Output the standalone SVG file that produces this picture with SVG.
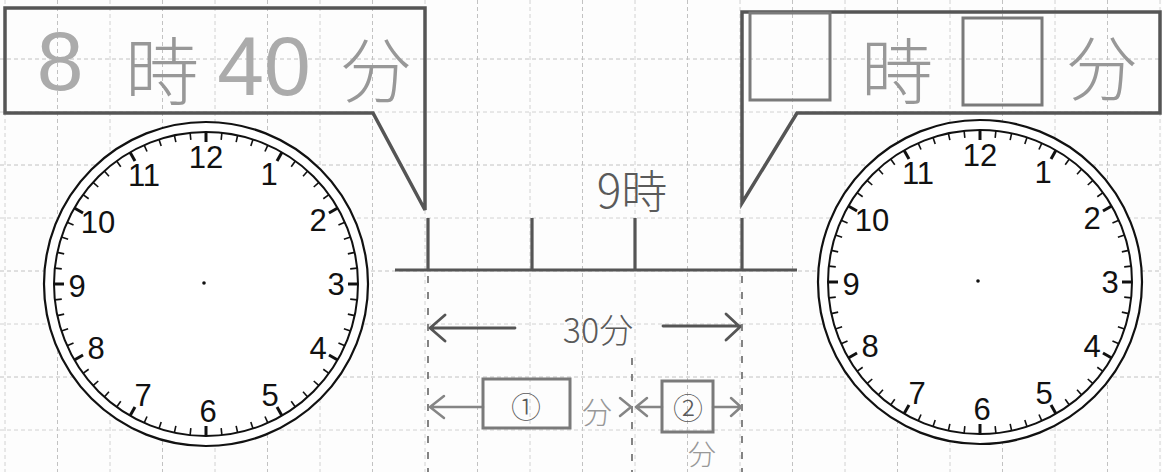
<svg xmlns="http://www.w3.org/2000/svg" xmlns:xlink="http://www.w3.org/1999/xlink" width="1162" height="472" viewBox="0 0 1162 472">
<style>
.grid line{stroke:#d2d2d2;stroke-width:1;stroke-dasharray:4 3}
.grid line.d{stroke:#c2c2c2}
.callout{fill:none;stroke:#555;stroke-width:3.5;stroke-linejoin:miter}
.hw{font-family:"Noto Sans CJK JP","Noto Sans",sans-serif;fill:#989898;font-weight:300}
.hwn{font-family:"Liberation Sans",Arial,sans-serif;fill:#ababab}
.hwd{font-family:"Noto Sans CJK JP","Noto Sans",sans-serif;fill:#5a5a5a;font-weight:300}
.num{font-family:"Liberation Sans Narrow","Liberation Sans",sans-serif;font-size:31px;fill:#111;text-anchor:middle;dominant-baseline:central}
.face{fill:#fff;stroke:#111;stroke-width:2.2}
.inner{fill:none;stroke:#111;stroke-width:2}
.mt{stroke:#111;stroke-width:1.6}
.ht{stroke:#111;stroke-width:3}
.pbox{fill:none;stroke:#7a7a7a;stroke-width:3}
.arr{fill:none;stroke:#858585;stroke-width:2.5;stroke-linecap:round;stroke-linejoin:round}
.arrd{fill:none;stroke:#555;stroke-width:2.8;stroke-linecap:round;stroke-linejoin:round}
.vd{stroke:#777;stroke-width:1.8;stroke-dasharray:7 9}
.tl{stroke:#555;stroke-width:3.2;fill:none}
</style>
<defs>
<g id="five">
<line class="ht" x1="0" y1="-152" x2="0" y2="-142"/>
<line class="mt" x1="0" y1="-152" x2="0" y2="-145" transform="rotate(6)"/>
<line class="mt" x1="0" y1="-152" x2="0" y2="-145" transform="rotate(12)"/>
<line class="mt" x1="0" y1="-152" x2="0" y2="-145" transform="rotate(18)"/>
<line class="mt" x1="0" y1="-152" x2="0" y2="-145" transform="rotate(24)"/>
</g>
<g id="clockface">
<circle class="face" cx="0" cy="0" r="162"/>
<circle class="inner" cx="0" cy="0" r="152"/>
<use xlink:href="#five"/>
<use xlink:href="#five" transform="rotate(30)"/>
<use xlink:href="#five" transform="rotate(60)"/>
<use xlink:href="#five" transform="rotate(90)"/>
<use xlink:href="#five" transform="rotate(120)"/>
<use xlink:href="#five" transform="rotate(150)"/>
<use xlink:href="#five" transform="rotate(180)"/>
<use xlink:href="#five" transform="rotate(210)"/>
<use xlink:href="#five" transform="rotate(240)"/>
<use xlink:href="#five" transform="rotate(270)"/>
<use xlink:href="#five" transform="rotate(300)"/>
<use xlink:href="#five" transform="rotate(330)"/>
<text class="num" x="0" y="-127">12</text>
<text class="num" x="63" y="-110">1</text>
<text class="num" x="112" y="-64">2</text>
<text class="num" x="130" y="0">3</text>
<text class="num" x="112" y="64">4</text>
<text class="num" x="64" y="111">5</text>
<text class="num" x="2" y="127">6</text>
<text class="num" x="-63" y="111">7</text>
<text class="num" x="-110" y="64">8</text>
<text class="num" x="-129" y="2">9</text>
<text class="num" x="-108" y="-62">10</text>
<text class="num" x="-62" y="-109">11</text>
<circle cx="-2" cy="-1" r="1.8" fill="#111"/>
</g>
</defs>
<rect width="1162" height="472" fill="#fdfdfd"/>
<g class="grid" id="grid">
<line x1="5" y1="0" x2="5" y2="472"/><line class="d" x1="57.5" y1="0" x2="57.5" y2="472"/>
<line x1="110" y1="0" x2="110" y2="472"/><line class="d" x1="162.5" y1="0" x2="162.5" y2="472"/>
<line x1="215" y1="0" x2="215" y2="472"/><line class="d" x1="267.5" y1="0" x2="267.5" y2="472"/>
<line x1="320" y1="0" x2="320" y2="472"/><line class="d" x1="372.5" y1="0" x2="372.5" y2="472"/>
<line x1="425" y1="0" x2="425" y2="472"/><line class="d" x1="477.5" y1="0" x2="477.5" y2="472"/>
<line x1="530" y1="0" x2="530" y2="472"/><line class="d" x1="582.5" y1="0" x2="582.5" y2="472"/>
<line x1="635" y1="0" x2="635" y2="472"/><line class="d" x1="687.5" y1="0" x2="687.5" y2="472"/>
<line x1="740" y1="0" x2="740" y2="472"/><line class="d" x1="792.5" y1="0" x2="792.5" y2="472"/>
<line x1="845" y1="0" x2="845" y2="472"/><line class="d" x1="897.5" y1="0" x2="897.5" y2="472"/>
<line x1="950" y1="0" x2="950" y2="472"/><line class="d" x1="1002.5" y1="0" x2="1002.5" y2="472"/>
<line x1="1055" y1="0" x2="1055" y2="472"/><line class="d" x1="1107.5" y1="0" x2="1107.5" y2="472"/>
<line x1="1160" y1="0" x2="1160" y2="472"/>
<line class="d" x1="0" y1="59" x2="1162" y2="59"/><line x1="0" y1="112" x2="1162" y2="112"/>
<line class="d" x1="0" y1="165" x2="1162" y2="165"/><line x1="0" y1="218" x2="1162" y2="218"/>
<line class="d" x1="0" y1="271" x2="1162" y2="271"/><line x1="0" y1="324" x2="1162" y2="324"/>
<line class="d" x1="0" y1="377" x2="1162" y2="377"/><line x1="0" y1="430" x2="1162" y2="430"/>
</g>
<g id="clock-left"><use xlink:href="#clockface" transform="translate(206,284)"/></g>
<g id="clock-right"><use xlink:href="#clockface" transform="translate(980,282)"/></g>
<g id="callout-left">
<path class="callout" d="M5,8 H425 V210 L373,113 H5 Z"/>
<text class="hwn" x="60" y="90" font-size="84" text-anchor="middle">8</text>
<text class="hw" x="162" y="66" font-size="74" text-anchor="middle" dominant-baseline="central">時</text>
<text class="hwn" x="264" y="95" font-size="84" text-anchor="middle">40</text>
<text class="hw" x="376" y="66" font-size="70" text-anchor="middle" dominant-baseline="central">分</text>
</g>
<g id="callout-right">
<path class="callout" d="M1160,12 H742 V203 L797,113 H1160 Z"/>
<rect class="pbox" x="750" y="13" width="80" height="87"/>
<text class="hw" x="897" y="66" font-size="72" text-anchor="middle" dominant-baseline="central">時</text>
<rect class="pbox" x="963" y="18" width="79" height="87"/>
<text class="hw" x="1102" y="64" font-size="70" text-anchor="middle" dominant-baseline="central">分</text>
</g>
<g id="connectors">
<line class="vd" x1="428" y1="276" x2="428" y2="472"/>
<line class="vd" x1="742" y1="276" x2="742" y2="472"/>
<line class="vd" x1="632" y1="358" x2="632" y2="472"/>
<path class="tl" d="M395,270 H797 M428,218 V270 M532,218 V270 M635,218 V270 M742,218 V270"/>
<path class="arrd" d="M430,328 H515 M445,315 L430,328 L445,341"/>
<path class="arrd" d="M663,326 H740 M726,314 L740,327 L726,340"/>
<path class="arr" d="M430,407 H483 M444,396 L430,407 L444,418"/>
<path class="arr" d="M620,398 L631,407 L620,416"/>
<path class="arr" d="M636,407 H662 M647,398 L636,407 L647,416"/>
<path class="arr" d="M713,407 H741 M731,398 L741,407 L731,416"/>
</g>
<g id="label-9ji"><text class="hwd" x="632" y="188" font-size="46" text-anchor="middle" dominant-baseline="central" fill="#666">9時</text></g>
<g id="label-30"><text class="hwd" x="598" y="328" font-size="34" text-anchor="middle" dominant-baseline="central">30分</text></g>
<g id="box-1">
<rect class="pbox" x="483" y="379" width="87" height="49"/>
<text class="hwd" x="526" y="405" font-size="30" text-anchor="middle" dominant-baseline="central">①</text>
<text class="hw" x="597" y="410" font-size="30" text-anchor="middle" dominant-baseline="central">分</text>
</g>
<g id="box-2">
<rect class="pbox" x="662" y="381" width="51" height="51"/>
<text class="hwd" x="688" y="406" font-size="30" text-anchor="middle" dominant-baseline="central">②</text>
<text class="hw" x="702" y="453" font-size="28" text-anchor="middle" dominant-baseline="central">分</text>
</g>
</svg>
